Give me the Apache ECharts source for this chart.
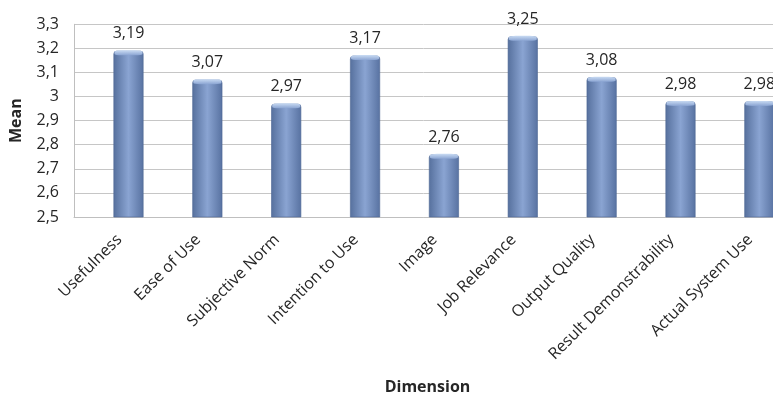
<!DOCTYPE html>
<html>
<head>
<meta charset="utf-8">
<script src="https://cdn.jsdelivr.net/npm/echarts@6/dist/echarts.min.js"></script>
<style>
  html, body { margin: 0; padding: 0; background: #ffffff; }
  #chart { width: 773px; height: 396px; }
</style>
</head>
<body>
<div id="chart"></div>
<script>
// Mean score per TAM dimension
const categories = [
  'Usefulness', 'Ease of Use', 'Subjective Norm', 'Intention to Use', 'Image',
  'Job Relevance', 'Output Quality', 'Result Demonstrability', 'Actual System Use'
];
const means = [3.19, 3.07, 2.97, 3.17, 2.76, 3.25, 3.08, 2.98, 2.98];
const yMin = 2.5;
const yMax = 3.3;
const yStep = 0.1;

const FONT = '"Open Sans", "DejaVu Sans", sans-serif';
const TEXT = '#262626';
const comma = v => String(Math.round(v * 100) / 100).replace('.', ',');

// category slots on a numeric x axis; the plot frame runs past the right edge
const slots = categories.map((_, i) => i);
const barData = slots.map(i => [i, means[i]]);

const chart = echarts.init(document.getElementById('chart'), null, { renderer: 'canvas' });

const barFill = new echarts.graphic.LinearGradient(0, 0, 1, 0, [
  { offset: 0, color: '#56709d' },
  { offset: 0.5, color: '#8aa4d2' },
  { offset: 1, color: '#5872a1' }
]);
const capFill = new echarts.graphic.LinearGradient(0, 0, 0, 1, [
  { offset: 0, color: '#c9dbf3' },
  { offset: 1, color: '#8aa4d2' }
]);

chart.setOption({
  backgroundColor: '#ffffff',
  animation: false,
  grid: { left: 72.7, right: 0, top: 24.3, bottom: 178 },
  xAxis: {
    type: 'value', min: -0.691, max: 8.173,
    axisLine: { show: true, onZero: false, lineStyle: { color: '#bfbfbf', width: 1 } },
    axisTick: { show: false },
    splitLine: { show: false },
    axisLabel: {
      customValues: slots,
      rotate: 45, margin: 11, padding: [0, 13, 0, 0],
      fontFamily: FONT, fontSize: 16, color: TEXT,
      formatter: v => categories[Math.round(v)]
    },
    name: 'Dimension', nameLocation: 'middle', nameGap: 162,
    nameTextStyle: { fontFamily: FONT, fontSize: 16, fontWeight: 'bold', color: TEXT, padding: [0, 0, 0, 8] }
  },
  yAxis: {
    type: 'value', min: yMin, max: yMax, interval: yStep,
    axisLine: { show: true, onZero: false, lineStyle: { color: '#bfbfbf', width: 1 } },
    axisTick: { show: false },
    axisLabel: {
      margin: 15, fontFamily: FONT, fontSize: 16, color: TEXT,
      formatter: v => comma(v)
    },
    splitLine: { show: true, lineStyle: { color: '#c6c6c6', width: 1 } },
    name: 'Mean', nameLocation: 'middle', nameGap: 50, nameRotate: 90,
    nameTextStyle: { fontFamily: FONT, fontSize: 16, fontWeight: 'bold', color: TEXT }
  },
  series: [
    {
      type: 'bar',
      data: barData, barWidth: 30,
      itemStyle: { color: barFill, borderColor: '#4d6793', borderWidth: 0.6, borderRadius: [3, 3, 0, 0] },
      label: {
        show: true, position: 'top', distance: 9,
        fontFamily: FONT, fontSize: 16, color: TEXT,
        formatter: p => comma(p.value[1])
      }
    },
    {
      // bevelled highlight on each bar top
      type: 'pictorialBar',
      data: barData, symbol: 'roundRect', symbolSize: [28, 5],
      symbolPosition: 'end', symbolOffset: [0, '-10%'],
      itemStyle: { color: capFill },
      silent: true, z: 3
    }
  ]
});
</script>
</body>
</html>
